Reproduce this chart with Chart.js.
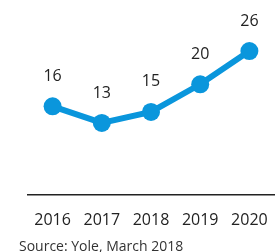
<!DOCTYPE html>
<html>
<head>
<meta charset="utf-8">
<script src="https://cdn.jsdelivr.net/npm/chart.js@4"></script>
<style>
  html, body { margin: 0; padding: 0; background: #fff; }
  #wrap { position: relative; width: 278px; height: 252px; }
  #source {
    position: absolute; left: 19px; top: 236px;
    font-family: "Open Sans", sans-serif; font-size: 14px; color: #333;
    white-space: nowrap;
  }
</style>
</head>
<body>
<div id="wrap">
  <canvas id="chart" width="278" height="252"></canvas>
  <div id="source">Source: Yole, March 2018</div>
</div>
<script>
const years = ['2016', '2017', '2018', '2019', '2020'];
const values = [16, 13, 15, 20, 26];

const BLUE = '#0a96dc';

// labels drawn above each point
const valueLabels = {
    id: 'valueLabels',
    afterDatasetsDraw(chart) {
        const ctx = chart.ctx;
        const meta = chart.getDatasetMeta(0);
        ctx.save();
        ctx.font = '16px "Open Sans", sans-serif';
        ctx.fillStyle = '#222';
        ctx.textAlign = 'center';
        ctx.textBaseline = 'middle';
        meta.data.forEach((pt, i) => {
            ctx.fillText(String(values[i]), pt.x, pt.y - 30);
        });
        ctx.restore();
    }
};

new Chart(document.getElementById('chart'), {
    type: 'line',
    data: {
        labels: years,
        datasets: [{
            data: values,
            borderColor: BLUE,
            backgroundColor: BLUE,
            borderWidth: 6,
            pointRadius: 9,
            pointHoverRadius: 9,
            pointBorderWidth: 0,
            tension: 0
        }]
    },
    options: {
        responsive: false,
        animation: false,
        layout: { autoPadding: false, padding: { left: 28, right: 4, top: 29, bottom: 6 } },
        plugins: {
            legend: { display: false },
            tooltip: { enabled: false }
        },
        scales: {
            x: {
                offset: true,
                grid: { display: false, drawTicks: false },
                border: { display: true, color: '#222', width: 1.5 },
                ticks: {
                    padding: 16,
                    color: '#222',
                    font: { family: '"Open Sans", sans-serif', size: 16 }
                },
                // tick padding would otherwise widen the side margins
                afterFit(scale) {
                    scale.paddingLeft = 0;
                    scale.paddingRight = 0;
                }
            },
            y: {
                display: false,
                min: 0,
                max: 30
            }
        }
    },
    plugins: [valueLabels]
});
</script>
</body>
</html>
